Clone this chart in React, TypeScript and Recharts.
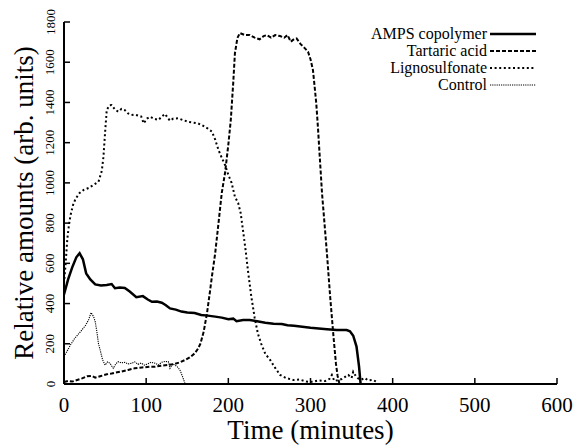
import { LineChart, Line, XAxis, YAxis, Legend } from "recharts"

// time (minutes), relative amount
const amps: [number, number][] = [
  [0, 445], [5, 520], [10, 580], [15, 630], [19, 650], [23, 620], [27, 550], [32, 520],
  [38, 495], [45, 490], [52, 492], [58, 497], [62, 476], [68, 480], [74, 477], [80, 460],
  [88, 432], [96, 437], [102, 420], [107, 409], [113, 410], [119, 404], [124, 392], [129, 376],
  [136, 370], [143, 360], [150, 355], [159, 353], [167, 343], [175, 340], [184, 335], [192, 330],
  [200, 322], [206, 325], [210, 312], [218, 318], [226, 318], [235, 312], [245, 305], [255, 300],
  [265, 298], [272, 292], [280, 290], [290, 285], [300, 280], [310, 276], [320, 272], [332, 268],
  [344, 268], [348, 262], [352, 240], [356, 186], [359, 90], [361, 0],
]

const tartaric: [number, number][] = [
  [0, 10], [5, 15], [10, 12], [16, 20], [22, 28], [28, 38], [34, 40], [38, 32], [45, 40],
  [52, 48], [58, 52], [62, 56], [70, 62], [78, 70], [86, 78], [95, 82], [104, 86], [111, 86],
  [120, 92], [128, 96], [135, 100], [141, 108], [147, 119], [153, 132], [159, 152], [163, 175],
  [166, 200], [170, 260], [174, 351], [177, 440], [180, 534], [184, 650], [188, 799], [192, 950],
  [196, 1050], [200, 1190], [203, 1313], [206, 1500], [208, 1644], [211, 1720], [214, 1745],
  [220, 1735], [226, 1735], [232, 1722], [238, 1714], [243, 1730], [247, 1735], [252, 1722],
  [257, 1735], [263, 1730], [268, 1722], [272, 1735], [276, 1702], [280, 1715], [283, 1718],
  [288, 1690], [293, 1670], [297, 1652], [300, 1615], [303, 1561], [305, 1480], [307, 1396],
  [309, 1280], [311, 1147], [314, 950], [317, 800], [320, 650], [324, 430], [328, 235],
  [331, 100], [333, 40], [335, 5],
]

const ligno: [number, number][] = [
  [0, 500], [2, 600], [4, 720], [6, 790], [8, 840], [11, 890], [14, 920], [19, 950], [24, 965],
  [30, 975], [36, 990], [42, 1006], [46, 1060], [48, 1130], [50, 1250], [52, 1362], [55, 1385],
  [58, 1387], [62, 1365], [66, 1354], [70, 1368], [74, 1362], [78, 1345], [82, 1338], [86, 1340],
  [90, 1335], [94, 1330], [97, 1296], [101, 1320], [105, 1329], [110, 1318], [115, 1313],
  [119, 1330], [123, 1343], [126, 1325], [129, 1309], [133, 1320], [139, 1321], [145, 1312],
  [151, 1304], [157, 1300], [163, 1296], [169, 1285], [175, 1270], [180, 1255], [184, 1215],
  [188, 1164], [192, 1125], [196, 1089], [200, 1040], [204, 1000], [208, 931], [212, 900],
  [215, 850], [218, 760], [221, 666], [224, 560], [228, 434], [232, 330], [236, 250], [240, 200],
  [245, 150], [251, 119], [257, 80], [263, 45], [270, 30], [279, 20], [287, 22], [295, 12],
  [303, 11], [310, 18], [318, 15], [323, 25], [326, 45], [329, 15], [334, 20], [338, 25],
  [342, 35], [346, 45], [350, 30], [352, 61], [355, 40], [358, 28], [362, 22], [366, 30],
  [370, 18], [376, 20], [380, 12],
]

const control: [number, number | null][] = [
  [0, 136], [4, 165], [8, 195], [13, 227], [18, 250], [22, 270], [26, 290], [30, 320], [33, 355],
  [36, 335], [38, 310], [40, 260], [42, 200], [44, 169], [47, 120], [50, 94], [53, 110], [56, 103],
  [58, 90], [60, 78], [63, 100], [66, 111], [70, 105], [74, 108], [78, 100], [82, 103], [86, 110],
  [90, 98], [94, 104], [98, 94], [102, 100], [106, 108], [111, 103], [115, 95], [119, 108],
  [123, 112], [127, 111], [129, 78], [132, 100], [135, 94], [138, 85], [141, 70], [144, 40],
  [147, 5], [149, 0], [300, null], [462, 2], [478, 2],
]

const xTicks = [0, 100, 200, 300, 400, 500, 600]
const yTicks = [0, 200, 400, 600, 800, 1000, 1200, 1400, 1600, 1800]

const FONT = "Liberation Serif"
const txt = { fontFamily: FONT }

const SERIES = [
  { name: "AMPS copolymer", points: amps, width: 2.5, dash: undefined as string | undefined },
  { name: "Tartaric acid", points: tartaric, width: 2, dash: "4 2" },
  { name: "Lignosulfonate", points: ligno, width: 2, dash: "2 2.6" },
  { name: "Control", points: control, width: 1.1, dash: "1.2 1" },
]

const toRows = (pts: [number, number | null][]) => pts.map(([t, v]) => ({ t, v }))

function BottomTick(props: any) {
  const { x, y, payload } = props
  return (
    <g>
      <line x1={x} x2={x} y1={y} y2={y - 6} stroke="#000" strokeWidth={1.5} />
      <text x={x} y={y + 28} textAnchor="middle" fontSize={21} fontFamily={FONT} style={txt} fill="#000">
        {payload.value}
      </text>
    </g>
  )
}

function TopTick(props: any) {
  const { x, y } = props
  return <line x1={x} x2={x} y1={y} y2={y + 6} stroke="#000" strokeWidth={1.5} />
}

function LeftTick(props: any) {
  const { x, y, payload } = props
  return (
    <g>
      <line x1={x} x2={x + 6} y1={y} y2={y} stroke="#000" strokeWidth={1.5} />
      <text
        x={x - 14}
        y={y}
        transform={`rotate(-90 ${x - 14} ${y})`}
        textAnchor="middle"
        dominantBaseline="central"
        fontSize={13}
        fontFamily={FONT}
        style={txt}
        fill="#000"
      >
        {payload.value}
      </text>
    </g>
  )
}

function RightTick(props: any) {
  const { x, y } = props
  return <line x1={x} x2={x - 6} y1={y} y2={y} stroke="#000" strokeWidth={1.5} />
}

function LegendBox() {
  return (
    <svg width={220} height={80}>
      {SERIES.map((s, i) => (
        <g key={s.name}>
          <text x={147} y={19 + 17 * i} textAnchor="end" fontSize={16} fontFamily={FONT} style={txt} fill="#000">
            {s.name}
          </text>
          <line
            x1={150}
            x2={196}
            y1={14 + 17 * i}
            y2={14 + 17 * i}
            stroke="#000"
            strokeWidth={s.width}
            strokeDasharray={s.dash}
          />
        </g>
      ))}
    </svg>
  )
}

export default function App() {
  return (
    <div style={{ position: "absolute", left: 0, top: 0, background: "#fff", fontFamily: FONT }}>
      <LineChart
        width={579}
        height={445}
        margin={{ top: 22, right: 22, bottom: 0, left: 0 }}
        style={{ fontFamily: FONT }}
      >
        <XAxis
          dataKey="t"
          type="number"
          domain={[0, 600]}
          ticks={xTicks}
          interval={0}
          height={61}
          tickSize={0}
          tickMargin={0}
          tick={<BottomTick />}
          axisLine={{ stroke: "#000", strokeWidth: 2 }}
          allowDataOverflow
          label={{
            content: (p: any) => {
              const vb = p.viewBox
              return (
                <text
                  x={vb.x + vb.width / 2}
                  y={439}
                  textAnchor="middle"
                  fontSize={27}
                  fontFamily={FONT}
                  style={txt}
                  fill="#000"
                >
                  Time (minutes)
                </text>
              )
            },
          }}
        />
        <XAxis
          xAxisId="top"
          orientation="top"
          dataKey="t"
          type="number"
          domain={[0, 600]}
          ticks={xTicks}
          interval={0}
          height={0}
          tickSize={0}
          tickMargin={0}
          tick={<TopTick />}
          axisLine={{ stroke: "#000", strokeWidth: 2 }}
          allowDataOverflow
        />
        <YAxis
          type="number"
          domain={[0, 1800]}
          ticks={yTicks}
          interval={0}
          width={64}
          tickSize={0}
          tickMargin={0}
          tick={<LeftTick />}
          axisLine={{ stroke: "#000", strokeWidth: 2 }}
          allowDataOverflow
          label={{
            content: (p: any) => {
              const vb = p.viewBox
              const cy = vb.y + vb.height / 2
              return (
                <text
                  x={33}
                  y={cy}
                  transform={`rotate(-90 33 ${cy})`}
                  textAnchor="middle"
                  fontSize={27}
                  fontFamily={FONT}
                  style={txt}
                  fill="#000"
                >
                  Relative amounts (arb. units)
                </text>
              )
            },
          }}
        />
        <YAxis
          yAxisId="right"
          orientation="right"
          type="number"
          domain={[0, 1800]}
          ticks={yTicks}
          interval={0}
          width={0}
          tickSize={0}
          tickMargin={0}
          tick={<RightTick />}
          axisLine={{ stroke: "#000", strokeWidth: 2 }}
          allowDataOverflow
        />
        {SERIES.map((s) => (
          <Line
            key={s.name}
            name={s.name}
            data={toRows(s.points)}
            dataKey="v"
            type="linear"
            stroke="#000"
            strokeWidth={s.width}
            strokeDasharray={s.dash}
            dot={false}
            activeDot={false}
            isAnimationActive={false}
          />
        ))}
        <Legend
          layout="vertical"
          align="center"
          verticalAlign="middle"
          content={<LegendBox />}
          wrapperStyle={{ top: 20, left: 340, width: 220, height: 80 }}
        />
      </LineChart>
    </div>
  )
}
